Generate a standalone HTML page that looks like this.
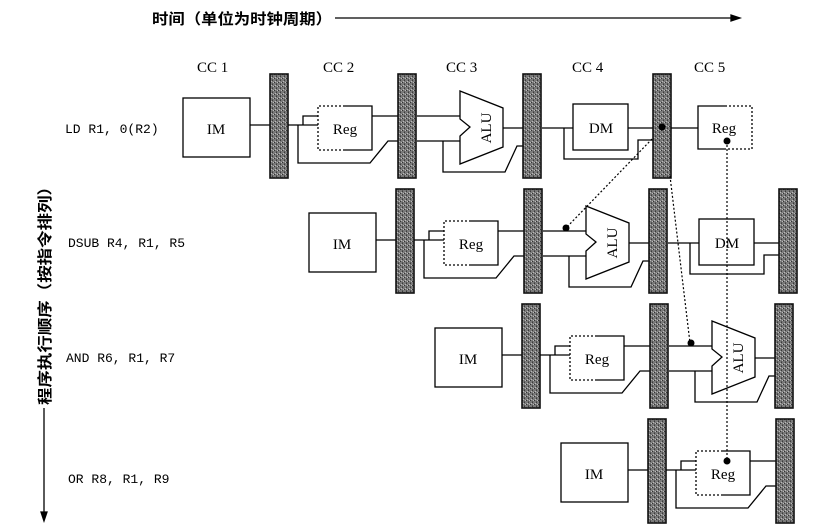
<!DOCTYPE html>
<html><head><meta charset="utf-8"><style>
html,body{margin:0;padding:0;background:#fff;}
svg{display:block;}
text{font-family:"Liberation Serif","Noto Serif CJK SC",serif;}
.m{font-family:"Liberation Mono",monospace;font-size:13px;}
.c{font-family:"Liberation Sans","Noto Sans CJK SC",sans-serif;font-weight:bold;}
</style></head><body>
<svg width="818" height="524" viewBox="0 0 818 524" xmlns="http://www.w3.org/2000/svg">
<defs>
<pattern id="p" width="4" height="4" patternUnits="userSpaceOnUse">
<rect width="4" height="4" fill="#7a7a7a"/><rect width="1" height="1" fill="#333"/><rect x="2" y="2" width="1" height="1" fill="#3a3a3a"/><rect x="3" y="0" width="1" height="1" fill="#bbb"/><rect x="1" y="3" width="1" height="1" fill="#bbb"/><rect x="2" y="1" width="1" height="1" fill="#555"/>
</pattern>
<g id="latch"><rect x="0" y="0" width="18" height="104" fill="url(#p)" stroke="#111" stroke-width="1.6"/></g>
<g id="reg" fill="none" stroke="#000" stroke-width="1.3">
<path d="M27,0 H54 V44 H27"/>
<path d="M27,0 H0 V44 H27" stroke-dasharray="2,2"/>
</g>
</defs>
<g stroke="#000" stroke-width="1.3" fill="none">
<line x1="335" y1="18" x2="735" y2="18"/>
<polygon points="740,18 731,15 731,21" fill="#000"/>
<line x1="44" y1="408" x2="44" y2="515"/>
<polygon points="44,521 41,512 47,512" fill="#000"/>
</g>
<text x="152" y="24" class="c" font-size="15" textLength="180" lengthAdjust="spacingAndGlyphs">时间（单位为时钟周期）</text>
<text transform="translate(50,405) rotate(-90)" class="c" font-size="15" textLength="227" lengthAdjust="spacingAndGlyphs">程序执行顺序（按指令排列）</text>
<g font-size="15">
<text x="197" y="72">CC 1</text><text x="323" y="72">CC 2</text><text x="446" y="72">CC 3</text><text x="572" y="72">CC 4</text><text x="694" y="72">CC 5</text>
</g>
<text x="65" y="133" class="m">LD R1, 0(R2)</text>
<text x="68" y="247" class="m">DSUB R4, R1, R5</text>
<text x="66" y="362" class="m">AND R6, R1, R7</text>
<text x="68" y="483" class="m">OR R8, R1, R9</text>

<g id="r1" stroke="#000" stroke-width="1.3" fill="none">
<rect x="183" y="98" width="67" height="59" fill="#fff"/>
<text x="216" y="134" font-size="15" text-anchor="middle" stroke="none" fill="#000">IM</text>
<line x1="250" y1="125" x2="270" y2="125"/>
<use href="#latch" x="270" y="74"/>
<line x1="288" y1="125" x2="318" y2="125"/>
<path d="M303,125 V116 H318"/>
<path d="M298,125 V163 H370 L388,141 H398"/>
<use href="#reg" x="318" y="106"/>
<text x="345" y="134" font-size="15" text-anchor="middle" stroke="none" fill="#000">Reg</text>
<line x1="372" y1="116" x2="398" y2="116"/>
<use href="#latch" x="398" y="74"/>
</g>
<g id="r1b" stroke="#000" stroke-width="1.3" fill="none">
<line x1="417" y1="116" x2="460" y2="116"/>
<line x1="417" y1="141" x2="460" y2="141"/>
<path d="M443,141 V172 H505 L517,146 H523"/>
<polygon points="460,91 503,108 503,147 460,164 460,136 470,127 460,119" fill="#fff"/>
<text transform="translate(491,128) rotate(-90)" font-size="15" text-anchor="middle" stroke="none" fill="#000">ALU</text>
<line x1="503" y1="128" x2="523" y2="128"/>
<use href="#latch" x="523" y="74"/>
</g>
<g id="r1c" stroke="#000" stroke-width="1.3" fill="none">
<line x1="542" y1="128" x2="573" y2="128"/>
<path d="M564,128 V159 H638 V140 H653"/>
<rect x="573" y="104" width="55" height="46" fill="#fff"/>
<text x="601" y="133" font-size="15" text-anchor="middle" stroke="none" fill="#000">DM</text>
<line x1="628" y1="128" x2="653" y2="128"/>
<use href="#latch" x="653" y="74"/>
</g>
<g stroke="#000" stroke-width="1.3" fill="none">
<line x1="671" y1="128" x2="698" y2="128"/>
<path d="M725,106 H698 V149 H725"/>
<path d="M725,106 H752 V149 H725" stroke-dasharray="2,2"/>
<text x="724" y="133" font-size="15" text-anchor="middle" stroke="none" fill="#000">Reg</text>
</g>
<use href="#r1" transform="translate(126,115)"/>
<use href="#r1b" transform="translate(126,115)"/>
<use href="#r1c" transform="translate(126,115)"/>
<use href="#r1" transform="translate(252,230)"/>
<use href="#r1b" transform="translate(252,230)"/>
<use href="#r1" transform="translate(378,345)"/>

<g stroke="#000" stroke-width="1.2" fill="none" stroke-dasharray="2,2">
<line x1="652" y1="139" x2="566" y2="228"/>
<line x1="670" y1="176" x2="690" y2="343"/>
<line x1="727" y1="141" x2="727" y2="461"/>
</g>
<g fill="#000">
<circle cx="662" cy="127" r="3.5"/>
<circle cx="727" cy="141" r="3.5"/>
<circle cx="566" cy="228" r="3.5"/>
<circle cx="691" cy="343" r="3.5"/>
<circle cx="727" cy="461" r="3.5"/>
</g>
</svg>
</body></html>
